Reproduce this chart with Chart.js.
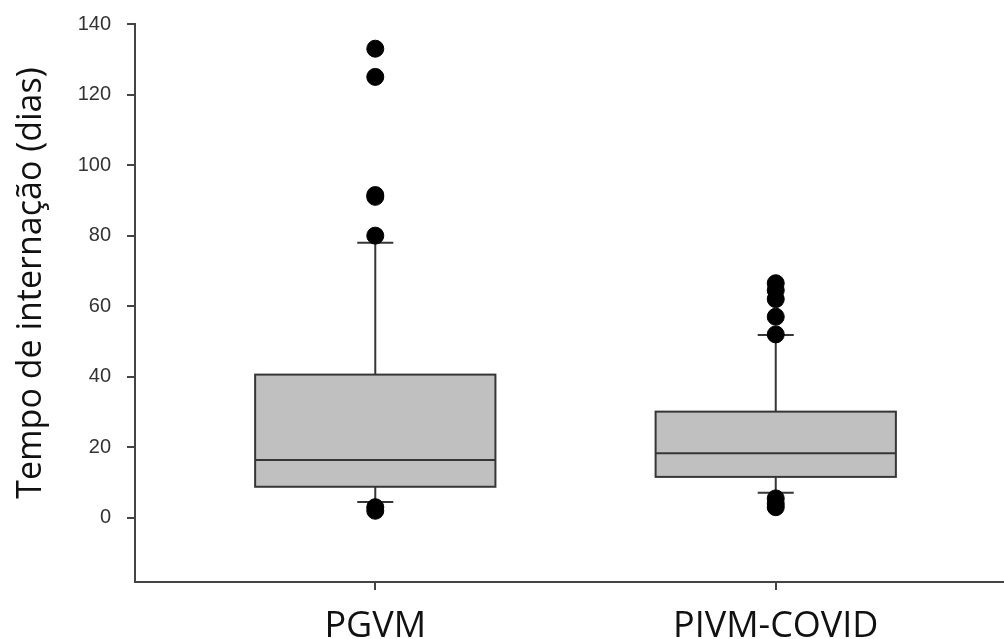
<!DOCTYPE html>
<html>
<head>
<meta charset="utf-8">
<script src="https://cdn.jsdelivr.net/npm/chart.js@4"></script>
<style>
  html, body { margin: 0; padding: 0; background: #fff; }
  #wrap { width: 1004px; height: 639px; position: relative; }
</style>
</head>
<body>
<div id="wrap"><canvas id="boxChart"></canvas></div>
<script>
// values
const categories = ['PGVM', 'PIVM-COVID'];
const whiskerLow = [4.5, 7.1];
const q1 = [8.8, 11.6];
const median = [16.4, 18.3];
const q3 = [40.6, 30.1];
const whiskerHigh = [78, 51.8];
const outliers = [
    [133, 125, 91.5, 91, 80, 3, 2],
    [66.5, 64.5, 62, 57, 52, 5.5, 4, 3]
];
const yTicks = [0, 20, 40, 60, 80, 100, 120, 140];
const yTitle = 'Tempo de internação (dias)';

const boxHalf = 0.3;   // half box width, in x units
const capHalf = 0.045; // half whisker cap width

const outlierPoints = [];
outliers.forEach((list, i) => {
    list.forEach(v => outlierPoints.push({ x: i + 1, y: v }));
});

// draws boxes, medians, whiskers and caps through the chart scales
const boxPlotPlugin = {
    id: 'boxPlot',
    beforeDatasetsDraw(chart) {
        const { ctx, scales: { x, y } } = chart;
        ctx.save();
        ctx.lineWidth = 2;
        ctx.strokeStyle = '#363636';
        categories.forEach((c, i) => {
            const cx = x.getPixelForValue(i + 1);
            const left = x.getPixelForValue(i + 1 - boxHalf);
            const right = x.getPixelForValue(i + 1 + boxHalf);
            const capL = x.getPixelForValue(i + 1 - capHalf);
            const capR = x.getPixelForValue(i + 1 + capHalf);
            const yQ1 = y.getPixelForValue(q1[i]);
            const yQ3 = y.getPixelForValue(q3[i]);
            const yMed = y.getPixelForValue(median[i]);
            const yLo = y.getPixelForValue(whiskerLow[i]);
            const yHi = y.getPixelForValue(whiskerHigh[i]);

            // whiskers
            ctx.beginPath();
            ctx.moveTo(cx, yQ3); ctx.lineTo(cx, yHi);
            ctx.moveTo(capL, yHi); ctx.lineTo(capR, yHi);
            ctx.moveTo(cx, yQ1); ctx.lineTo(cx, yLo);
            ctx.moveTo(capL, yLo); ctx.lineTo(capR, yLo);
            ctx.stroke();

            // box
            ctx.fillStyle = '#c0c0c0';
            ctx.fillRect(left, yQ3, right - left, yQ1 - yQ3);
            ctx.strokeRect(left, yQ3, right - left, yQ1 - yQ3);

            // median
            ctx.beginPath();
            ctx.moveTo(left, yMed); ctx.lineTo(right, yMed);
            ctx.stroke();
        });
        ctx.restore();
    }
};

// y title sits a bit above the middle of the axis in the original
const yTitlePlugin = {
    id: 'yTitle',
    afterDraw(chart) {
        const { ctx, chartArea } = chart;
        ctx.save();
        ctx.translate(31, (chartArea.top + chartArea.bottom) / 2 - 20);
        ctx.rotate(-Math.PI / 2);
        ctx.font = '34px "Open Sans"';
        ctx.fillStyle = '#111';
        ctx.textAlign = 'center';
        ctx.textBaseline = 'middle';
        ctx.fillText(yTitle, 0, 0);
        ctx.restore();
    }
};

const ctx = document.getElementById('boxChart').getContext('2d');
new Chart(ctx, {
    type: 'scatter',
    data: {
        datasets: [{
            label: 'outliers',
            data: outlierPoints,
            backgroundColor: '#000',
            borderColor: '#000',
            pointRadius: 8.5,
            pointHoverRadius: 8.5
        }]
    },
    plugins: [boxPlotPlugin, yTitlePlugin],
    options: {
        responsive: true,
        maintainAspectRatio: false,
        animation: false,
        layout: { autoPadding: false, padding: { top: 24, left: 0, right: 0, bottom: 0 } },
        plugins: {
            legend: { display: false },
            tooltip: { enabled: false }
        },
        scales: {
            x: {
                type: 'linear',
                min: 0.4,
                max: 2.57,
                afterBuildTicks: scale => {
                    scale.ticks = categories.map((c, i) => ({ value: i + 1 }));
                },
                afterFit: scale => {
                    scale.height = 57;
                    scale.paddingLeft = 0;
                    scale.paddingRight = 0;
                },
                border: { display: true, color: '#444', width: 2 },
                grid: { drawOnChartArea: false, drawTicks: true, tickLength: 8, color: '#444', lineWidth: 2 },
                ticks: {
                    padding: 15,
                    color: '#111',
                    maxRotation: 0,
                    font: { family: 'Open Sans', size: 36 },
                    callback: v => categories[v - 1]
                }
            },
            y: {
                min: -18.2,
                max: 140,
                afterBuildTicks: scale => {
                    scale.ticks = yTicks.map(v => ({ value: v }));
                },
                afterFit: scale => {
                    scale.width = 135;
                    scale.paddingTop = 0;
                    scale.paddingBottom = 0;
                },
                border: { display: true, color: '#444', width: 2 },
                grid: { drawOnChartArea: false, drawTicks: true, tickLength: 8, color: '#444', lineWidth: 2 },
                ticks: {
                    padding: 16,
                    color: '#333',
                    font: { family: 'Liberation Sans', size: 20 }
                }
            }
        }
    }
});
</script>
</body>
</html>
